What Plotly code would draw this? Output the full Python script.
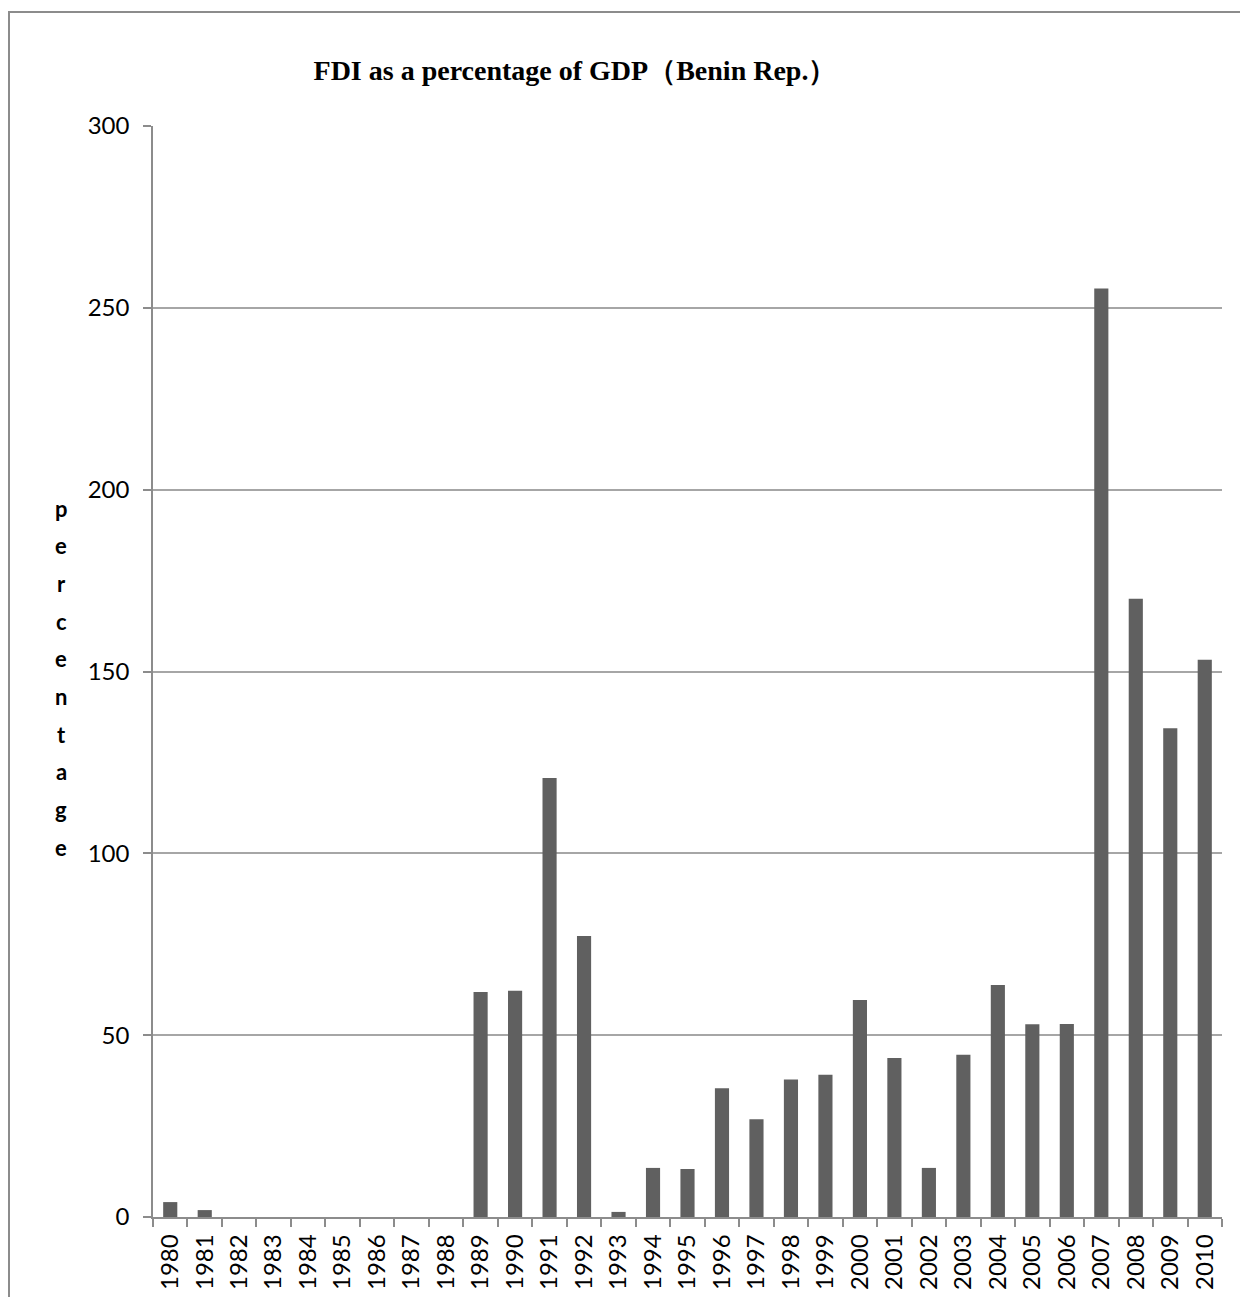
import plotly.graph_objects as go

# Benin Rep.: FDI as a percentage of GDP, 1980-2010
years = [str(y) for y in range(1980, 2011)]
fdi_pct = [4.1, 1.9, 0, 0, 0, 0, 0, 0, 0,
           61.9, 62.2, 120.7, 77.3, 1.4, 13.5, 13.2, 35.4, 26.9, 37.8, 39.1,
           59.7, 43.7, 13.5, 44.6, 63.8, 53.0, 53.1, 255.3, 170.0, 134.4, 153.2]
y_ticks = [0, 50, 100, 150, 200, 250, 300]
y_title = "percentage"
title_text = "FDI as a percentage of GDP（Benin Rep.）"

W, H = 1240, 1297
L, R, T, B = 153, 18, 126, 80
plot_w = W - L - R
plot_h = H - T - B


def px_x(p):
    return (p - L) / plot_w


def px_y(p):
    return (H - B - p) / plot_h


GRID = "#a6a6a6"
AXIS = "#8c8c8c"
TICK_FONT = dict(family="Lato, 'Open Sans', sans-serif", size=24, color="#000000")

fig = go.Figure(go.Bar(
    x=years,
    y=fdi_pct,
    marker=dict(color="#606060", line=dict(width=0)),
    hoverinfo="x+y",
))

# stacked vertical letters of the y-axis title
annotations = []
letter_top, letter_step = 508, 37.7
for i, ch in enumerate(y_title):
    annotations.append(dict(
        text="<b>" + ch + "</b>", xref="paper", yref="paper",
        x=px_x(61), y=px_y(letter_top + i * letter_step),
        xanchor="center", yanchor="middle", showarrow=False,
        font=dict(family="Lato, 'Open Sans', sans-serif", size=22, color="#000000"),
    ))

fig.update_layout(
    width=W, height=H,
    margin=dict(l=L, r=R, t=T, b=B, pad=0, autoexpand=False),
    paper_bgcolor="#ffffff",
    plot_bgcolor="#ffffff",
    showlegend=False,
    bargap=0.59,
    title=dict(
        text="<b>" + title_text + "</b>",
        xref="container", yref="container",
        x=575 / W, y=1 - 70 / H,
        xanchor="center", yanchor="middle",
        font=dict(family="'Liberation Serif', 'Times New Roman', serif", size=28, color="#000000"),
    ),
    xaxis=dict(
        type="category",
        automargin=False,
        tickangle=-90,
        tickfont=TICK_FONT,
        tickson="boundaries",
        ticks="outside", ticklen=8, tickwidth=1.5, tickcolor=AXIS,
        showline=True, linecolor=AXIS, linewidth=1.5,
        showgrid=False,
        ticklabelstandoff=6,
    ),
    yaxis=dict(
        range=[0, 300],
        automargin=False,
        tickvals=y_ticks,
        tickfont=TICK_FONT,
        ticks="outside", ticklen=8, tickwidth=1.5, tickcolor=AXIS,
        showline=True, linecolor=AXIS, linewidth=1.5,
        showgrid=True, gridcolor=GRID, gridwidth=1.5,
        zeroline=False,
        ticklabelstandoff=9,
    ),
    annotations=annotations,
    shapes=[dict(
        type="rect", xref="paper", yref="paper", layer="below",
        x0=px_x(9), x1=px_x(W + 20), y0=px_y(H + 20), y1=px_y(12),
        line=dict(color=AXIS, width=2), fillcolor="rgba(0,0,0,0)",
    )],
)

fig.write_html("out.html")
